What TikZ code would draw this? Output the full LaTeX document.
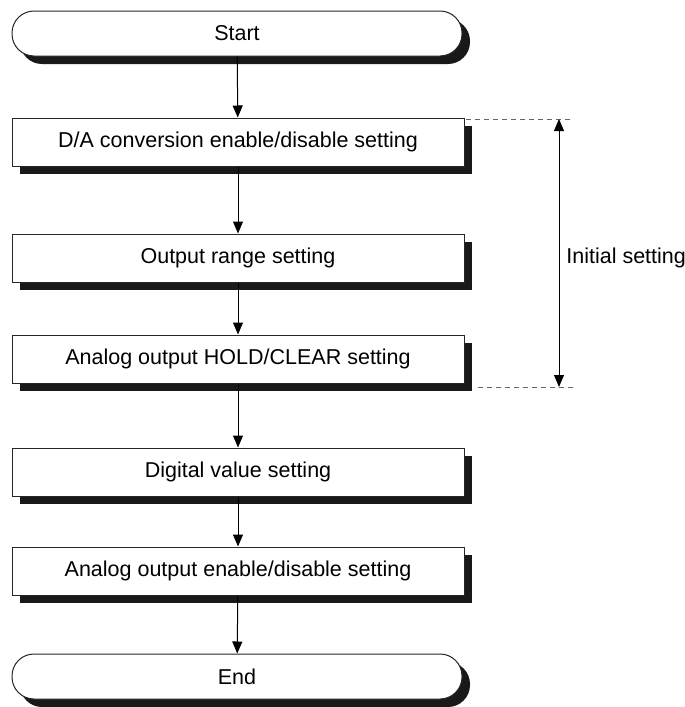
\documentclass[tikz,border=0pt]{standalone}
\usepackage{fontspec}
\setmainfont{Liberation Sans}
\usetikzlibrary{arrows.meta,shadows}

\begin{document}
\begin{tikzpicture}[x=0.5pt, y=-0.5pt, font=\fontsize{10.75}{12}\selectfont,
  stepbox/.style={draw=black!85, line width=0.5pt, fill=white, inner sep=0pt,
    minimum width=226pt, minimum height=24pt,
    drop shadow={shadow xshift=4pt, shadow yshift=-4pt, opacity=1, fill=black!90}},
  termbox/.style={stepbox, minimum width=225pt, minimum height=22.5pt, rounded corners=11pt},
  flow/.style={-{Triangle[length=6pt,width=5pt]}, line width=0.5pt},
  dashline/.style={black!60, line width=0.5pt, dash pattern=on 2.5pt off 2pt}]

\useasboundingbox (0,0) rectangle (685,707);

% flow chart
\node [termbox] (start) at (237,33.5) {Start};
\node [stepbox] (conv)  at (238,142)  {D/A conversion enable/disable setting};
\node [stepbox] (range) at (238,258)  {Output range setting};
\node [stepbox] (hold)  at (238,359)  {Analog output HOLD/CLEAR setting};
\node [stepbox] (digit) at (238,472)  {Digital value setting};
\node [stepbox] (outen) at (238,571)  {Analog output enable/disable setting};
\node [termbox] (end)   at (237,676.5) {End};

\draw [flow] (start) -- (conv);
\draw [flow] (conv) -- (range);
\draw [flow] (range) -- (hold);
\draw [flow] (hold) -- (digit);
\draw [flow] (digit) -- (outen);
\draw [flow] (outen) -- (end);

% initial setting span
\coordinate (dta) at (466,119);
\coordinate (dtb) at (573,119);
\coordinate (dba) at (478,387);
\coordinate (dbb) at (573,387);
\coordinate (itop) at (559,119);
\coordinate (ibot) at (559,387);

\draw [dashline] (dta) -- (dtb);
\draw [dashline] (dba) -- (dbb);
\draw [flow, {Triangle[length=6pt,width=5pt]}-{Triangle[length=6pt,width=5pt]}] (itop) -- (ibot);
\node [anchor=west, inner sep=0pt] (init) at (566,258) {Initial setting};

\end{tikzpicture}
\end{document}
